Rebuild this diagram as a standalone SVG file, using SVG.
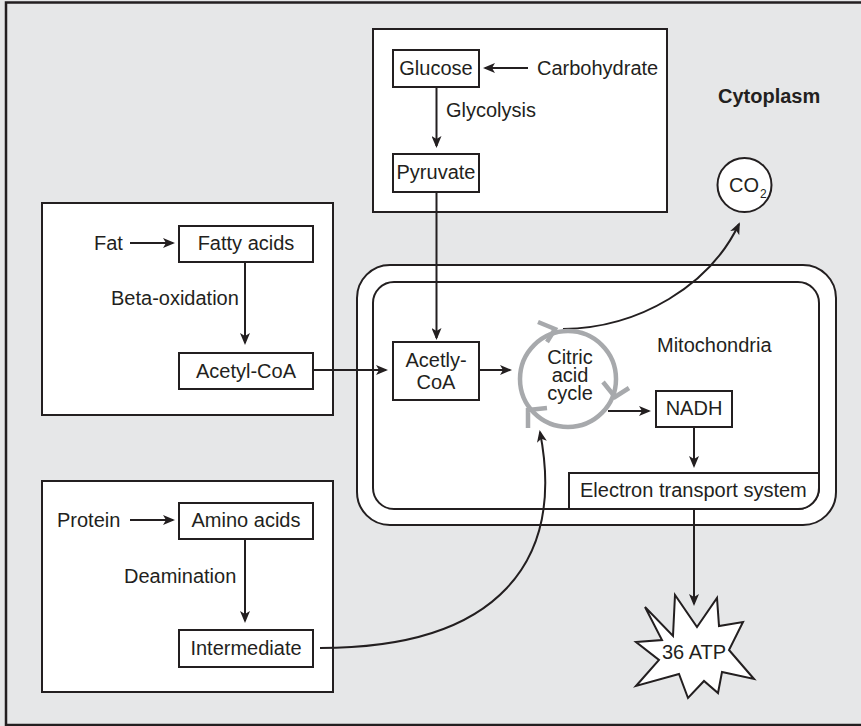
<svg xmlns="http://www.w3.org/2000/svg" width="861" height="726" viewBox="0 0 861 726">
  <style>
    .t { font-family: "Liberation Sans", Arial, sans-serif; font-size: 20px; fill: #231f20; }
    .c { text-anchor: middle; }
    .box { fill: #ffffff; stroke: #231f20; stroke-width: 2; }
    .panel { fill: #ffffff; stroke: #231f20; stroke-width: 2; }
    .ln { fill: none; stroke: #231f20; stroke-width: 2; }
    .arr { marker-end: url(#ah); }
    .ring { fill: none; stroke: #a7a9ac; stroke-width: 4.5; }
  </style>
  <defs>
    <marker id="ah" viewBox="0 0 12 10" refX="10" refY="5" markerWidth="12" markerHeight="10" orient="auto" markerUnits="userSpaceOnUse">
      <path d="M0,0 L12,5 L0,10 L3,5 z" fill="#231f20"/>
    </marker>
  </defs>

  <!-- cell background (cytoplasm) -->
  <rect x="0" y="0" width="861" height="726" fill="#e6e7e8"/>
  <rect x="6" y="2.5" width="862" height="722.5" fill="none" stroke="#231f20" stroke-width="2.5"/>
  <text class="t" x="718" y="103" font-weight="bold">Cytoplasm</text>

  <!-- pathway panels -->
  <g id="carb-panel"><rect class="panel" x="373" y="29" width="294" height="183"/></g>
  <g id="fat-panel"><rect class="panel" x="42" y="203" width="291" height="212"/></g>
  <g id="protein-panel"><rect class="panel" x="42" y="481" width="291" height="211"/></g>

  <!-- mitochondrion double membrane -->
  <g id="mitochondria">
    <rect x="357" y="265" width="479" height="260" rx="33" ry="33" fill="#ffffff" stroke="#231f20" stroke-width="2"/>
    <rect x="373" y="282" width="446" height="227" rx="21" ry="21" fill="#ffffff" stroke="#231f20" stroke-width="2"/>
    <text class="t" x="657" y="352">Mitochondria</text>
  </g>

  <!-- connectors -->
  <g id="connectors">
    <line class="ln arr" x1="528" y1="68" x2="485" y2="68"/>
    <line class="ln arr" x1="436.5" y1="87" x2="436.5" y2="146"/>
    <line class="ln arr" x1="436.5" y1="192" x2="436.5" y2="338"/>
    <line class="ln arr" x1="130" y1="243" x2="173" y2="243"/>
    <line class="ln arr" x1="245" y1="262" x2="245" y2="343"/>
    <line class="ln arr" x1="313" y1="370" x2="386" y2="370"/>
    <line class="ln arr" x1="479" y1="370" x2="510" y2="370"/>
    <line class="ln arr" x1="130" y1="520" x2="173" y2="520"/>
    <line class="ln arr" x1="245" y1="539" x2="245" y2="621"/>
    <path class="ln arr" d="M320,648 C500,648 565,560 540,432"/>
    <path class="ln arr" d="M563,329 C640,328 710,285 739,224"/>
    <line class="ln arr" x1="608" y1="411" x2="649" y2="411"/>
    <line class="ln arr" x1="694" y1="427" x2="694" y2="466"/>
    <line class="ln arr" x1="694" y1="509" x2="694" y2="604"/>
  </g>

  <!-- carbohydrate pathway -->
  <g id="carbohydrate"><text class="t" x="537" y="75">Carbohydrate</text></g>
  <g id="glucose">
    <rect class="box" x="393" y="50" width="86" height="37"/>
    <text class="t c" x="436" y="75">Glucose</text>
  </g>
  <g id="glycolysis"><text class="t" x="446" y="117">Glycolysis</text></g>
  <g id="pyruvate">
    <rect class="box" x="393" y="154" width="86" height="38"/>
    <text class="t c" x="436" y="179">Pyruvate</text>
  </g>

  <!-- fat pathway -->
  <g id="fat"><text class="t" x="94" y="250">Fat</text></g>
  <g id="fatty-acids">
    <rect class="box" x="179" y="226" width="134" height="36"/>
    <text class="t c" x="246" y="250">Fatty acids</text>
  </g>
  <g id="beta-oxidation"><text class="t" x="111" y="305">Beta-oxidation</text></g>
  <g id="acetyl-coa">
    <rect class="box" x="179" y="353" width="134" height="36"/>
    <text class="t c" x="246" y="378">Acetyl-CoA</text>
  </g>

  <!-- protein pathway -->
  <g id="protein"><text class="t" x="57" y="527">Protein</text></g>
  <g id="amino-acids">
    <rect class="box" x="179" y="503" width="134" height="36"/>
    <text class="t c" x="246" y="527">Amino acids</text>
  </g>
  <g id="deamination"><text class="t" x="124" y="583">Deamination</text></g>
  <g id="intermediate">
    <rect class="box" x="179" y="630" width="134" height="37"/>
    <text class="t c" x="246" y="655">Intermediate</text>
  </g>

  <!-- mitochondrial nodes -->
  <g id="acetly-coa-mito">
    <rect class="box" x="393" y="342" width="86" height="58"/>
    <text class="t c" x="436" y="367">Acetly-<tspan x="436" dy="22">CoA</tspan></text>
  </g>
  <g id="citric-acid-cycle">
    <circle class="ring" cx="568" cy="379" r="48"/>
    <polyline class="ring" points="538,322 555,329 547,342"/>
    <polyline class="ring" points="603,382 615,397 629,388"/>
    <polyline class="ring" points="547,408 528,410 528,428"/>
    <text class="t c" x="570" y="364" font-size="18">Citric<tspan x="570" dy="18">acid</tspan><tspan x="570" dy="18">cycle</tspan></text>
  </g>
  <g id="nadh">
    <rect class="box" x="656" y="391" width="76" height="36"/>
    <text class="t c" x="694" y="415">NADH</text>
  </g>
  <g id="electron-transport">
    <path d="M569,509 V473 H819 V488 A21,21 0 0 1 798,509 Z" fill="#ffffff" stroke="#231f20" stroke-width="2"/>
    <text class="t" x="580" y="497">Electron transport system</text>
  </g>

  <!-- products -->
  <g id="co2">
    <circle cx="744.5" cy="185" r="27" fill="#ffffff" stroke="#231f20" stroke-width="2"/>
    <text class="t" x="729" y="192" font-size="17">CO<tspan font-size="12" dx="1" dy="6">2</tspan></text>
  </g>
  <g id="atp">
    <polygon points="636,642 662,640 645,607 673,636 675,595 697,627 717,598 719,626 743,622 729,650 754,679 722,672 718,693 704,681 688,698 679,674 636,686 659,660" fill="#ffffff" stroke="#231f20" stroke-width="2" stroke-linejoin="miter"/>
    <text class="t c" x="694" y="659" font-size="18">36 ATP</text>
  </g>
</svg>
